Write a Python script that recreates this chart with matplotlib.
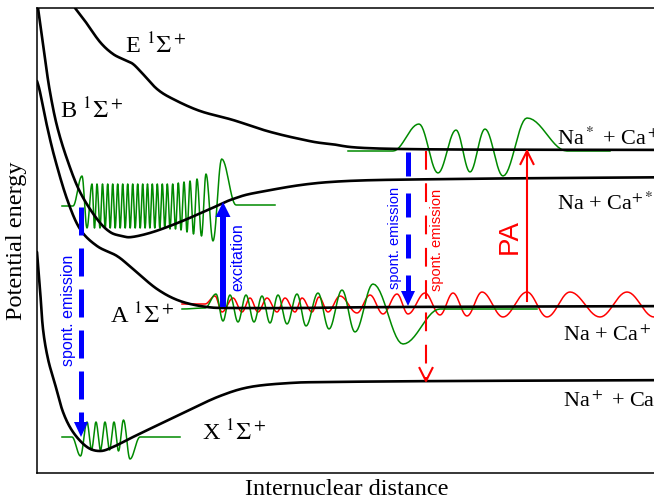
import numpy as np
import matplotlib
matplotlib.use('Agg')
import matplotlib.pyplot as plt

plt.rcParams['font.family'] = ['Liberation Serif', 'DejaVu Serif']
plt.rcParams['mathtext.fontset'] = 'stix'

# ---------------- data (pixel-like units) -------------
# potential energy curves: (internuclear distance, energy) sample points
X_r = [37, 40, 43, 48, 55, 63, 73, 87, 100, 113, 133, 160, 187, 220, 250, 290, 330, 450, 700]
X_E = [253, 290, 330, 360, 385, 413, 433, 448, 452, 448, 438, 425, 412, 397, 388, 384, 383, 382, 381]

A_r = [37, 40, 47, 55, 67, 80, 97, 117, 133, 157, 180, 207, 233, 300, 400, 700]
A_E = [82, 93, 127, 160, 200, 230, 247, 257, 270, 290, 302, 308, 309, 309, 308, 307]

B_r = [38, 45, 50, 57, 67, 80, 97, 110, 122, 132, 153, 180, 210, 233, 260, 330, 450, 700]
B_E = [9, 60, 93, 127, 160, 193, 220, 233, 237, 238, 233, 223, 210, 200, 193, 183, 180, 178]

E_r = [75, 85, 100, 113, 125, 133, 142, 157, 173, 200, 233, 267, 300, 330, 400, 700]
E_E = [9, 22, 43, 55, 61, 65, 74, 90, 100, 112, 121, 132, 140, 145, 150, 151]

# wave functions: baseline ends and extrema (r, value)
wB_r = [62, 73, 82, 87, 92, 94.5, 97, 100, 102.5, 105.2, 107.7, 110.2, 112.7, 115.2, 117.7,
        120.2, 122.7, 125.2, 127.7, 130.2, 132.7, 135.2, 137.7, 140.2, 142.7, 145.1, 147.5,
        149.9, 152.3, 154.8, 157.3, 159.8, 162.3, 164.8, 167.3, 170, 172.7, 175.5, 178.3,
        181, 184, 187, 190, 193.5, 197, 201.5, 206, 213, 221.7, 236, 275]
wB_v = [207, 207, 177, 229, 185, 229, 185, 229, 185, 229, 185, 229, 185, 229, 185,
        229, 185, 229, 185, 229, 185, 229, 185, 229, 185, 229, 185,
        229, 185, 229, 185, 229, 185, 229, 185, 230, 185, 230, 184,
        231, 183, 233, 182, 235, 180, 237, 175, 242, 160, 206, 206]

wX_r = [62, 72, 80.5, 87, 91.5, 96, 100.5, 105, 109.5, 114, 118.5, 123.5, 130, 140, 180]
wX_v = [438, 438, 457, 423, 451, 423, 451, 423, 451, 423, 452, 421, 460, 438, 438]

wA_r = [182, 205, 216, 223, 230, 238, 246, 254, 262, 270, 278, 287, 297, 306, 318, 329,
        342, 355, 373, 403, 440, 537]
wA_v = [310, 309, 295, 322, 296, 323, 296, 323, 297, 324, 296, 325, 295, 327, 294, 330,
        291, 333, 285, 345, 310, 310]

rA_r = [182, 205, 215, 222, 233, 242, 250, 258, 267, 277, 285, 295, 302, 312, 319, 328,
        340, 357, 370, 383, 397, 408, 425, 440, 453, 467, 482, 503, 527, 547, 570, 600,
        627, 654, 680]
rA_v = [305, 305, 297, 313, 299, 313, 299, 313, 299, 313, 299, 313, 299, 313, 298, 313,
        297, 314, 296, 315, 295, 315, 294, 316, 294, 317, 293, 318, 293, 318, 293, 318,
        293, 318, 293]

wE_r = [348, 393, 419, 438, 456, 470, 485, 503, 527, 567, 610]
wE_v = [152, 152, 125, 174, 131, 173, 130, 177, 119, 152, 152]

# transitions: (r, start energy, end energy)
exc = (223, 308, 203)
spont_left = (81, 208, 438)
spont_right = (408, 153, 307)
spont_red = (426, 152, 382)
pa = (527, 302, 152)

state_labels = ['E $^1\\Sigma^+$', 'B $^1\\Sigma^+$', 'A $^1\\Sigma^+$', 'X $^1\\Sigma^+$']
state_pos = [(125, 53), (60, 118), (110, 323), (202, 440)]
asym_labels = ['Na$^*$ + Ca$^+$', 'Na + Ca$^{+*}$', 'Na + Ca$^+$', 'Na$^+$ + Ca']
asym_pos = [(557, 145), (557, 210), (563, 341), (563, 407)]


# ---------------- helpers ----------------------------------------------------
def catmull(xs, ys, n=24):
    P = np.column_stack([xs, ys]).astype(float)
    P = np.vstack([2 * P[0] - P[1], P, 2 * P[-1] - P[-2]])
    out = []
    t = np.linspace(0, 1, n)[:, None]
    for i in range(1, len(P) - 2):
        p0, p1, p2, p3 = P[i - 1], P[i], P[i + 1], P[i + 2]
        seg = 0.5 * ((2 * p1) + (-p0 + p2) * t + (2 * p0 - 5 * p1 + 4 * p2 - p3) * t ** 2
                     + (-p0 + 3 * p1 - 3 * p2 + p3) * t ** 3)
        out.append(seg if i == 1 else seg[1:])
    out = np.vstack(out)
    return out[:, 0], out[:, 1]


def wave(xs, ys, n=14):
    rx, ry = [xs[0]], [ys[0]]
    t = np.linspace(0, 1, n)[1:]
    for i in range(len(xs) - 1):
        x0, x1, y0, y1 = xs[i], xs[i + 1], ys[i], ys[i + 1]
        rx.extend(x0 + (x1 - x0) * t)
        ry.extend(y0 + (y1 - y0) * (1 - np.cos(np.pi * t)) / 2)
    return np.array(rx), np.array(ry)


# ---------------- figure -----------------------------------------------------
fig = plt.figure(figsize=(6.54, 5.02), dpi=100)
ax = fig.add_axes([37 / 654, (502 - 474) / 502, (700 - 37) / 654, (474 - 9) / 502])
ax.set_xlim(37, 700)
ax.set_ylim(474, 9)
ax.set_xticks([])
ax.set_yticks([])
for s in ax.spines.values():
    s.set_linewidth(1.1)
ax.spines['right'].set_visible(False)

GREEN = '#008a00'
lw_pot = 1.9
for xs, ys in [(X_r, X_E), (A_r, A_E), (B_r, B_E), (E_r, E_E)]:
    cx, cy = catmull(xs, ys)
    ax.plot(cx, cy, color='black', lw=lw_pot, zorder=3, solid_capstyle='round')

for xs, ys, c in [(wB_r, wB_v, GREEN), (wX_r, wX_v, GREEN), (rA_r, rA_v, 'red'),
                  (wA_r, wA_v, GREEN), (wE_r, wE_v, GREEN)]:
    wx, wy = wave(xs, ys)
    ax.plot(wx, wy, color=c, lw=1.1, zorder=2)

BLUE = '#0000ff'
# excitation (solid blue, filled head)
x, y0, y1 = exc
ax.plot([x, x], [y0, y1 + 14], color=BLUE, lw=4.3, solid_capstyle='butt', zorder=5)
ax.fill([x - 7.5, x + 7.5, x], [y1 + 15, y1 + 15, y1], color=BLUE, lw=0, zorder=5)

# spontaneous emission (dashed blue, filled head)
for (x, y0, y1), dash in [(spont_left, (5.6, 2.6)), (spont_right, (4.8, 3.4))]:
    ax.plot([x, x], [y0, y1 - 14], color=BLUE, lw=3.6, linestyle=(0, dash),
            dash_capstyle='butt', zorder=5)
    ax.fill([x - 7, x + 7, x], [y1 - 15, y1 - 15, y1], color=BLUE, lw=0, zorder=5)

# red dashed spont emission, open head
x, y0, y1 = spont_red
ax.plot([x, x], [y0, y1], color='red', lw=1.5, linestyle=(0, (9, 6.5)),
        dash_capstyle='butt', zorder=5)
ax.plot([x - 6.5, x, x + 6.5], [y1 - 13, y1, y1 - 13], color='red', lw=1.5, zorder=5)

# PA arrow
x, y0, y1 = pa
ax.plot([x, x], [y0, y1], color='red', lw=1.5, zorder=5)
ax.plot([x - 6.5, x, x + 6.5], [y1 + 13, y1, y1 + 13], color='red', lw=1.5, zorder=5)

# arrow labels
sans = ['Liberation Sans', 'DejaVu Sans']
ax.text(68, 310, 'spont. emission', rotation=90, color=BLUE, family=sans, fontsize=11.5,
        ha='center', va='center')
ax.text(238, 257, 'excitation', rotation=90, color=BLUE, family=sans, fontsize=11.5,
        ha='center', va='center')
ax.text(395, 238, 'spont. emission', rotation=90, color=BLUE, family=sans, fontsize=10.5,
        ha='center', va='center')
ax.text(437, 240, 'spont. emission', rotation=90, color='red', family=sans, fontsize=10.5,
        ha='center', va='center')
ax.text(510, 236, 'PA', rotation=90, color='red', family=sans, fontsize=20,
        ha='center', va='center')

for lab, (x, y) in zip(state_labels, state_pos):
    ax.text(x, y, lab, fontsize=17.5, ha='left', va='baseline')
for lab, (x, y) in zip(asym_labels, asym_pos):
    ax.text(x, y, lab, fontsize=16, ha='left', va='baseline')

fig.text(347 / 654, 1 - 490 / 502, 'Internuclear distance', fontsize=17.5,
         ha='center', va='center')
fig.text(17 / 654, 1 - 241 / 502, 'Potential energy', fontsize=17.5, rotation=90,
         ha='center', va='center')

fig.savefig('out.png', dpi=100)
